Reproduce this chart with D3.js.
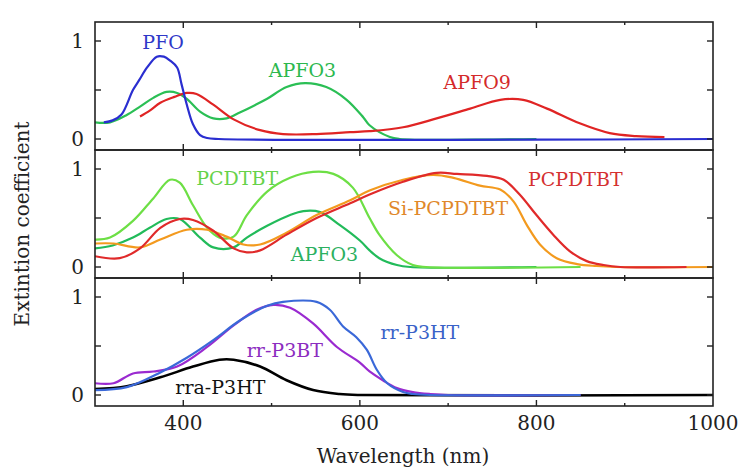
<!DOCTYPE html>
<html>
<head>
<meta charset="utf-8">
<script src="https://cdn.jsdelivr.net/npm/d3@7"></script>
<style>
  body { margin: 0; background: #fff; }
  svg text { font-family: "DejaVu Serif", serif; }
</style>
</head>
<body>
<div id="chart"></div>
<script>
// Set up the SVG container
var width = 741;
var height = 468;

// wavelength ticks
var xMajorTicks = [400, 600, 800, 1000];
var xMinorTicks = [500, 700, 900];
var yTicks = [0, 1];

// top panel
var pfo = [[310,0.17],[320,0.19],[330,0.25],[343,0.5],[350,0.6],[359,0.73],[370,0.84],[378,0.84],[385,0.8],[393,0.73],[398,0.56],[404,0.35],[411,0.15],[419,0.04],[427,0.01],[440,0],[1000,0]];
var apfo3a = [[300,0.17],[317,0.17],[335,0.24],[351,0.33],[366,0.42],[381,0.48],[393,0.47],[404,0.41],[419,0.28],[434,0.21],[449,0.21],[464,0.27],[480,0.34],[495,0.41],[517,0.53],[538,0.57],[562,0.53],[585,0.4],[604,0.22],[611,0.14],[634,0.02],[645,0],[800,0]];
var apfo9 = [[351,0.23],[362,0.29],[374,0.37],[390,0.43],[404,0.47],[415,0.46],[434,0.35],[457,0.2],[487,0.09],[513,0.05],[551,0.05],[589,0.07],[611,0.08],[649,0.12],[687,0.21],[725,0.31],[759,0.4],[785,0.4],[812,0.31],[849,0.16],[883,0.06],[913,0.03],[945,0.02]];

// middle panel
var pcdtbt = [[300,0.28],[317,0.3],[343,0.47],[366,0.7],[385,0.89],[396,0.86],[411,0.63],[427,0.4],[441,0.3],[457,0.31],[472,0.53],[495,0.77],[521,0.91],[547,0.97],[570,0.95],[592,0.81],[611,0.5],[622,0.33],[642,0.12],[660,0.02],[675,0],[850,0]];
var apfo3b = [[300,0.19],[320,0.22],[343,0.3],[362,0.4],[381,0.49],[396,0.49],[419,0.3],[434,0.2],[457,0.2],[472,0.3],[495,0.42],[521,0.53],[536,0.57],[555,0.56],[577,0.43],[600,0.27],[611,0.17],[622,0.09],[642,0.02],[657,0],[800,0]];
var pcpdtbt = [[300,0.11],[328,0.09],[351,0.19],[374,0.4],[396,0.49],[411,0.48],[434,0.37],[457,0.19],[472,0.15],[487,0.17],[517,0.33],[551,0.5],[589,0.65],[611,0.74],[649,0.87],[687,0.96],[710,0.95],[744,0.93],[763,0.89],[781,0.74],[800,0.53],[819,0.33],[838,0.16],[857,0.06],[876,0.02],[895,0],[970,0]];
var sipcpdtbt = [[300,0.24],[321,0.24],[351,0.2],[374,0.28],[404,0.38],[427,0.38],[449,0.31],[468,0.23],[487,0.23],[517,0.35],[551,0.53],[589,0.68],[611,0.78],[649,0.89],[683,0.94],[706,0.91],[736,0.83],[759,0.79],[774,0.67],[789,0.43],[804,0.23],[823,0.09],[846,0.03],[868,0.01],[890,0],[1000,0]];

// bottom panel
var rrP3ht = [[300,0.05],[336,0.08],[374,0.23],[404,0.38],[434,0.56],[464,0.76],[495,0.91],[513,0.95],[551,0.95],[566,0.87],[581,0.7],[596,0.59],[608,0.46],[619,0.26],[631,0.12],[649,0.03],[660,0.01],[680,0],[850,0]];
var rrP3bt = [[300,0.12],[321,0.12],[343,0.22],[366,0.24],[393,0.29],[427,0.49],[457,0.71],[483,0.87],[502,0.92],[521,0.89],[547,0.73],[574,0.49],[600,0.33],[611,0.24],[626,0.15],[642,0.07],[660,0.03],[680,0.01],[700,0],[850,0]];
var rraP3ht = [[300,0.06],[336,0.09],[374,0.18],[411,0.29],[441,0.36],[457,0.36],[487,0.29],[517,0.15],[547,0.05],[577,0.01],[600,0],[1000,0]];

var panels = [
  {
    top: 22,
    series: [
      { data: apfo3a, color: "#2bbf55" },
      { data: apfo9, color: "#e02424" },
      { data: pfo, color: "#2a2ed0" }
    ],
    labels: [
      { text: "PFO", x: 377, y: 0.99, color: "#2e37c8" },
      { text: "APFO3", x: 535, y: 0.70, color: "#2cb84e" },
      { text: "APFO9", x: 733, y: 0.58, color: "#d42a2a" }
    ]
  },
  {
    top: 150,
    series: [
      { data: apfo3b, color: "#22bb5a" },
      { data: pcdtbt, color: "#6ddf45" },
      { data: sipcpdtbt, color: "#f39a1e" },
      { data: pcpdtbt, color: "#e02a2a" }
    ],
    labels: [
      { text: "PCDTBT", x: 461, y: 0.90, color: "#66d24a" },
      { text: "PCPDTBT", x: 844, y: 0.89, color: "#d43030" },
      { text: "Si-PCPDTBT", x: 700, y: 0.60, color: "#e0882a" },
      { text: "APFO3", x: 560, y: 0.13, color: "#2cb060" }
    ]
  },
  {
    top: 278,
    series: [
      { data: rraP3ht, color: "#000000", width: 2.6 },
      { data: rrP3bt, color: "#9a2ad0" },
      { data: rrP3ht, color: "#3a68d8" }
    ],
    labels: [
      { text: "rr-P3HT", x: 668, y: 0.64, color: "#3a62c8" },
      { text: "rr-P3BT", x: 515, y: 0.46, color: "#8c2cc0" },
      { text: "rra-P3HT", x: 442, y: 0.08, color: "#111" }
    ]
  }
];

var panelHeight = 128;
var left = 95;
var right = 713;

var svg = d3
  .select("#chart")
  .append("svg")
  .attr("width", width)
  .attr("height", height);

var x = d3.scaleLinear().domain([300, 1000]).range([left, right]);

panels.forEach(function (p, i) {
  var bottom = p.top + panelHeight;
  // 0 sits 11px above the bottom, 1 sits 19px below the top
  var y = d3.scaleLinear().domain([0, 1]).range([bottom - 11, p.top + 19]);

  var g = svg.append("g");

  var clipId = "clip" + i;
  g.append("clipPath")
    .attr("id", clipId)
    .append("rect")
    .attr("x", left)
    .attr("y", p.top)
    .attr("width", right - left)
    .attr("height", panelHeight);

  var line = d3
    .line()
    .x((d) => x(d[0]))
    .y((d) => y(d[1]))
    .curve(d3.curveCatmullRom.alpha(0.5));

  g.append("g")
    .attr("clip-path", "url(#" + clipId + ")")
    .selectAll("path")
    .data(p.series)
    .enter()
    .append("path")
    .attr("d", (d) => line(d.data))
    .style("fill", "none")
    .style("stroke", (d) => d.color)
    .style("stroke-width", (d) => d.width || 2.2)
    .style("stroke-linejoin", "round");

  // frame
  g.append("rect")
    .attr("x", left)
    .attr("y", p.top)
    .attr("width", right - left)
    .attr("height", panelHeight)
    .style("fill", "none")
    .style("stroke", "#222")
    .style("stroke-width", 1.6);

  // x ticks, inside, top and bottom
  var xt = xMajorTicks.filter((t) => t < 1000);
  [p.top, bottom].forEach(function (yy, k) {
    var dir = k === 0 ? 1 : -1;
    g.selectAll(null)
      .data(xt)
      .enter()
      .append("line")
      .attr("x1", (d) => x(d))
      .attr("x2", (d) => x(d))
      .attr("y1", yy)
      .attr("y2", yy + dir * 6)
      .style("stroke", "#222")
      .style("stroke-width", 1.4);
    g.selectAll(null)
      .data(xMinorTicks)
      .enter()
      .append("line")
      .attr("x1", (d) => x(d))
      .attr("x2", (d) => x(d))
      .attr("y1", yy)
      .attr("y2", yy + dir * 3)
      .style("stroke", "#222")
      .style("stroke-width", 1.4);
  });

  // y ticks both sides
  [left, right].forEach(function (xx, k) {
    var dir = k === 0 ? 1 : -1;
    g.selectAll(null)
      .data([0, 0.5, 1])
      .enter()
      .append("line")
      .attr("x1", xx)
      .attr("x2", xx + dir * 6)
      .attr("y1", (d) => y(d))
      .attr("y2", (d) => y(d))
      .style("stroke", "#222")
      .style("stroke-width", 1.4);
  });

  g.selectAll(null)
    .data(yTicks)
    .enter()
    .append("text")
    .attr("x", left - 11)
    .attr("y", (d) => y(d))
    .attr("dy", "0.35em")
    .style("text-anchor", "end")
    .style("font-size", "20px")
    .style("fill", "#222")
    .text((d) => d);

  g.selectAll(null)
    .data(p.labels)
    .enter()
    .append("text")
    .attr("x", (d) => x(d.x))
    .attr("y", (d) => y(d.y))
    .attr("dy", "0.35em")
    .style("text-anchor", "middle")
    .style("font-size", "19px")
    .style("fill", (d) => d.color)
    .text((d) => d.text);
});

// x tick labels under the last panel
svg
  .selectAll(".xlabel")
  .data(xMajorTicks)
  .enter()
  .append("text")
  .attr("class", "xlabel")
  .attr("x", (d) => x(d))
  .attr("y", 430)
  .style("text-anchor", "middle")
  .style("font-size", "20px")
  .style("fill", "#222")
  .text((d) => d);

svg
  .append("text")
  .attr("x", 403)
  .attr("y", 463)
  .style("text-anchor", "middle")
  .style("font-size", "20px")
  .style("fill", "#222")
  .text("Wavelength (nm)");

svg
  .append("text")
  .attr("transform", "translate(29,224) rotate(-90)")
  .style("text-anchor", "middle")
  .style("font-size", "20px")
  .style("fill", "#222")
  .text("Extintion coefficient");
</script>
</body>
</html>
